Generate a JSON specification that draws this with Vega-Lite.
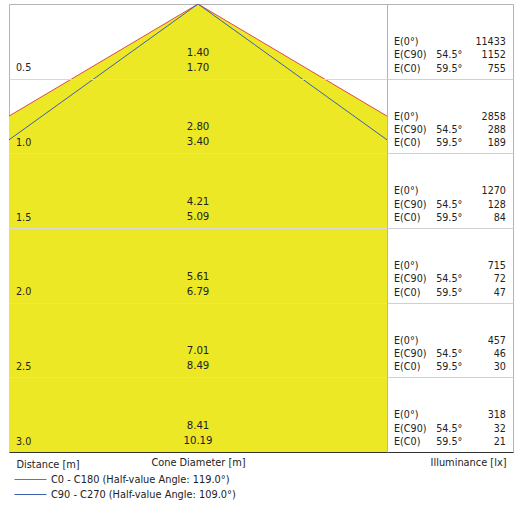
{
  "$schema": "https://vega.github.io/schema/vega-lite/v6.json",
  "description": "Light cone diagram: cone diameters and illuminance by distance.",
  "background": "white",
  "padding": {"left": 8, "top": 3, "right": 3, "bottom": 0},
  "spacing": 0,
  "bounds": "flush",
  "config": {
    "font": "DejaVu Sans",
    "view": {"stroke": "#b4b4b4", "strokeWidth": 1},
    "axis": {"titleFontWeight": "normal", "titleFontSize": 9.8, "titleColor": "#222", "labels": false, "ticks": false, "minExtent": 0, "maxExtent": 0},
    "text": {"font": "DejaVu Sans", "fontSize": 9.6, "color": "#222", "baseline": "middle"},
    "legend": {"labelFontSize": 9.8, "labelColor": "#222", "labelFont": "DejaVu Sans", "labelLimit": 300}
  },
  "datasets": {
    "rows": [
      {"d": 0.5, "c90": 1.40, "c0": 1.70, "e0": 11433, "ec90": 1152, "ec0": 755},
      {"d": 1.0, "c90": 2.80, "c0": 3.40, "e0": 2858, "ec90": 288, "ec0": 189},
      {"d": 1.5, "c90": 4.21, "c0": 5.09, "e0": 1270, "ec90": 128, "ec0": 84},
      {"d": 2.0, "c90": 5.61, "c0": 6.79, "e0": 715, "ec90": 72, "ec0": 47},
      {"d": 2.5, "c90": 7.01, "c0": 8.49, "e0": 457, "ec90": 46, "ec0": 30},
      {"d": 3.0, "c90": 8.41, "c0": 10.19, "e0": 318, "ec90": 32, "ec0": 21}
    ],
    "cone": [
      {"series": "C0 - C180 (Half-value Angle: 119.0°)", "k": 0, "d": 3, "x": -5.095},
      {"series": "C0 - C180 (Half-value Angle: 119.0°)", "k": 1, "d": 0, "x": 0},
      {"series": "C0 - C180 (Half-value Angle: 119.0°)", "k": 2, "d": 3, "x": 5.095},
      {"series": "C90 - C270 (Half-value Angle: 109.0°)", "k": 0, "d": 3, "x": -4.205},
      {"series": "C90 - C270 (Half-value Angle: 109.0°)", "k": 1, "d": 0, "x": 0},
      {"series": "C90 - C270 (Half-value Angle: 109.0°)", "k": 2, "d": 3, "x": 4.205}
    ],
    "fill": [
      {"d": 0, "lo": 0, "hi": 0},
      {"d": 3, "lo": -5.095, "hi": 5.095}
    ]
  },
  "hconcat": [
    {
      "width": 378,
      "height": 448,
      "layer": [
        {
          "data": {"name": "fill"},
          "mark": {"type": "area", "orient": "horizontal", "color": "#ede826", "opacity": 1, "clip": true},
          "encoding": {
            "y": {
              "field": "d", "type": "quantitative",
              "scale": {"domain": [0, 3], "reverse": true, "nice": false},
              "axis": {"title": "Distance [m]", "domain": false, "grid": true, "values": [0.5, 1, 1.5, 2, 2.5],
                       "gridColor": "#d8d8d8", "zindex": 1, "titleAngle": 0, "titleAlign": "left",
                       "titleBaseline": "top", "titleX": 7, "titleY": 455}
            },
            "x": {
              "field": "lo", "type": "quantitative",
              "scale": {"domain": [-1.275, 1.275], "nice": false, "zero": false},
              "axis": {"title": "Cone Diameter [m]", "grid": false, "domainColor": "#333", "titlePadding": 5, "titleBaseline": "top"}
            },
            "x2": {"field": "hi"}
          }
        },
        {
          "data": {"name": "cone"},
          "mark": {"type": "line", "clip": true, "strokeWidth": 1},
          "encoding": {
            "x": {"field": "x", "type": "quantitative"},
            "y": {"field": "d", "type": "quantitative"},
            "order": {"field": "k"},
            "color": {
              "field": "series", "type": "nominal",
              "scale": {"domain": ["C0 - C180 (Half-value Angle: 119.0°)", "C90 - C270 (Half-value Angle: 109.0°)"],
                        "range": ["#dd4a4a", "#3d5fb0"]},
              "legend": {"title": null, "orient": "none", "legendX": 5, "legendY": 469, "symbolType": "stroke",
                         "symbolSize": 1024, "symbolStrokeWidth": 1, "clipHeight": 13, "rowPadding": 2,
                         "labelOffset": 4, "padding": 0}
            }
          }
        },
        {
          "data": {"name": "rows"},
          "mark": {"type": "text", "align": "left", "dx": 7, "dy": -10.5},
          "encoding": {
            "x": {"datum": -1.275, "type": "quantitative"},
            "y": {"field": "d", "type": "quantitative"},
            "text": {"field": "d", "format": ".1f"}
          }
        },
        {
          "data": {"name": "rows"},
          "mark": {"type": "text", "align": "center", "dy": -26, "fontSize": 10.2},
          "encoding": {
            "x": {"datum": 0, "type": "quantitative"},
            "y": {"field": "d", "type": "quantitative"},
            "text": {"field": "c90", "format": ".2f"}
          }
        },
        {
          "data": {"name": "rows"},
          "mark": {"type": "text", "align": "center", "dy": -11, "fontSize": 10.2},
          "encoding": {
            "x": {"datum": 0, "type": "quantitative"},
            "y": {"field": "d", "type": "quantitative"},
            "text": {"field": "c0", "format": ".2f"}
          }
        }
      ]
    },
    {
      "width": 126,
      "height": 448,
      "data": {"name": "rows"},
      "encoding": {
        "y": {
          "field": "d", "type": "quantitative",
          "scale": {"domain": [0, 3], "reverse": true, "nice": false},
          "axis": {"title": null, "domain": false, "grid": true, "values": [0.5, 1, 1.5, 2, 2.5], "gridColor": "#d0d0d0"}
        }
      },
      "layer": [
        {
          "mark": {"type": "text", "align": "left", "dy": -36.7},
          "encoding": {
            "x": {
              "datum": 0.056, "type": "quantitative", "scale": {"domain": [0, 1], "nice": false},
              "axis": {"title": "Illuminance [lx]", "grid": false, "domainColor": "#333", "titlePadding": 5,
                       "titleBaseline": "top", "titleX": 119, "titleAlign": "right"}
            },
            "text": {"value": "E(0°)"}
          }
        },
        {
          "mark": {"type": "text", "align": "left", "dy": -23.4},
          "encoding": {"x": {"datum": 0.056, "type": "quantitative"}, "text": {"value": "E(C90)"}}
        },
        {
          "mark": {"type": "text", "align": "left", "dy": -10},
          "encoding": {"x": {"datum": 0.056, "type": "quantitative"}, "text": {"value": "E(C0)"}}
        },
        {
          "mark": {"type": "text", "align": "left", "dy": -23.4},
          "encoding": {"x": {"datum": 0.39, "type": "quantitative"}, "text": {"value": "54.5°"}}
        },
        {
          "mark": {"type": "text", "align": "left", "dy": -10},
          "encoding": {"x": {"datum": 0.39, "type": "quantitative"}, "text": {"value": "59.5°"}}
        },
        {
          "mark": {"type": "text", "align": "right", "dy": -36.7},
          "encoding": {"x": {"datum": 0.944, "type": "quantitative"}, "text": {"field": "e0"}}
        },
        {
          "mark": {"type": "text", "align": "right", "dy": -23.4},
          "encoding": {"x": {"datum": 0.944, "type": "quantitative"}, "text": {"field": "ec90"}}
        },
        {
          "mark": {"type": "text", "align": "right", "dy": -10},
          "encoding": {"x": {"datum": 0.944, "type": "quantitative"}, "text": {"field": "ec0"}}
        }
      ]
    }
  ]
}
